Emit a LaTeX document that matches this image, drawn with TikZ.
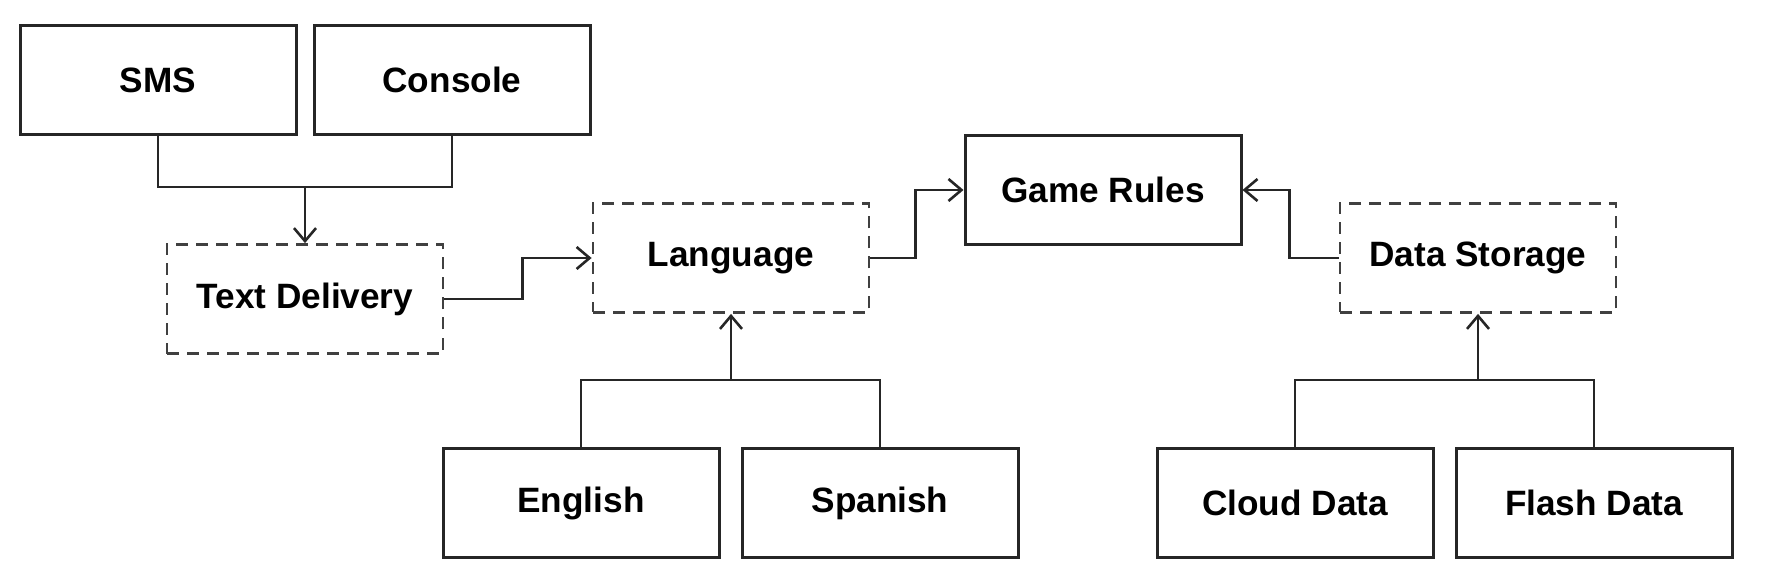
\documentclass[tikz,border=0pt]{standalone}
\usepackage{fontspec}
\setmainfont{Liberation Sans}
\usetikzlibrary{arrows.meta}
\begin{document}
\begin{tikzpicture}[x=0.5pt,y=-0.5pt,
  box/.style={draw=black!85, line width=1.5pt, minimum width=138pt, minimum height=54.5pt, inner sep=0pt, font=\fontsize{17.6}{20}\selectfont\bfseries, text=black},
  dbox/.style={box, draw=black!75, dash pattern=on 6pt off 4pt, line width=1.4pt},
  conn/.style={draw=black!85, line width=1.3pt},
  arr/.style={conn, -{Straight Barb[length=6.5pt,width=11pt,line width=1.3pt]}}]
\useasboundingbox (0,0) rectangle (1778,572);
\node[box] (sms) at (158,80) {SMS};
\node[box] (console) at (452,80) {Console};
\node[dbox] (td) at (305,299) {Text Delivery};
\node[dbox] (lang) at (731,258) {Language};
\node[box] (gr) at (1103,190) {Game Rules};
\node[dbox] (ds) at (1478,258) {Data Storage};
\node[box] (en) at (581,503) {English};
\node[box] (es) at (880,503) {Spanish};
\node[box] (cloud) at (1295,503) {Cloud Data};
\node[box] (flash) at (1594,503) {Flash Data};
\coordinate (j1) at (305,187);
\coordinate (j2) at (731,380);
\coordinate (j3) at (1478,380);
\draw[conn] (sms.south) |- (j1) -| (console.south);
\draw[arr] (j1) -- (td.north);
\draw[arr] (td.east) -- ++(78,0) |- (lang.west);
\draw[arr] (lang.east) -- ++(45,0) |- (gr.west);
\draw[arr] (ds.west) -- ++(-49,0) |- (gr.east);
\draw[conn] (en.north) |- (j2) -| (es.north);
\draw[arr] (j2) -- (lang.south);
\draw[conn] (cloud.north) |- (j3) -| (flash.north);
\draw[arr] (j3) -- (ds.south);
\end{tikzpicture}
\end{document}
